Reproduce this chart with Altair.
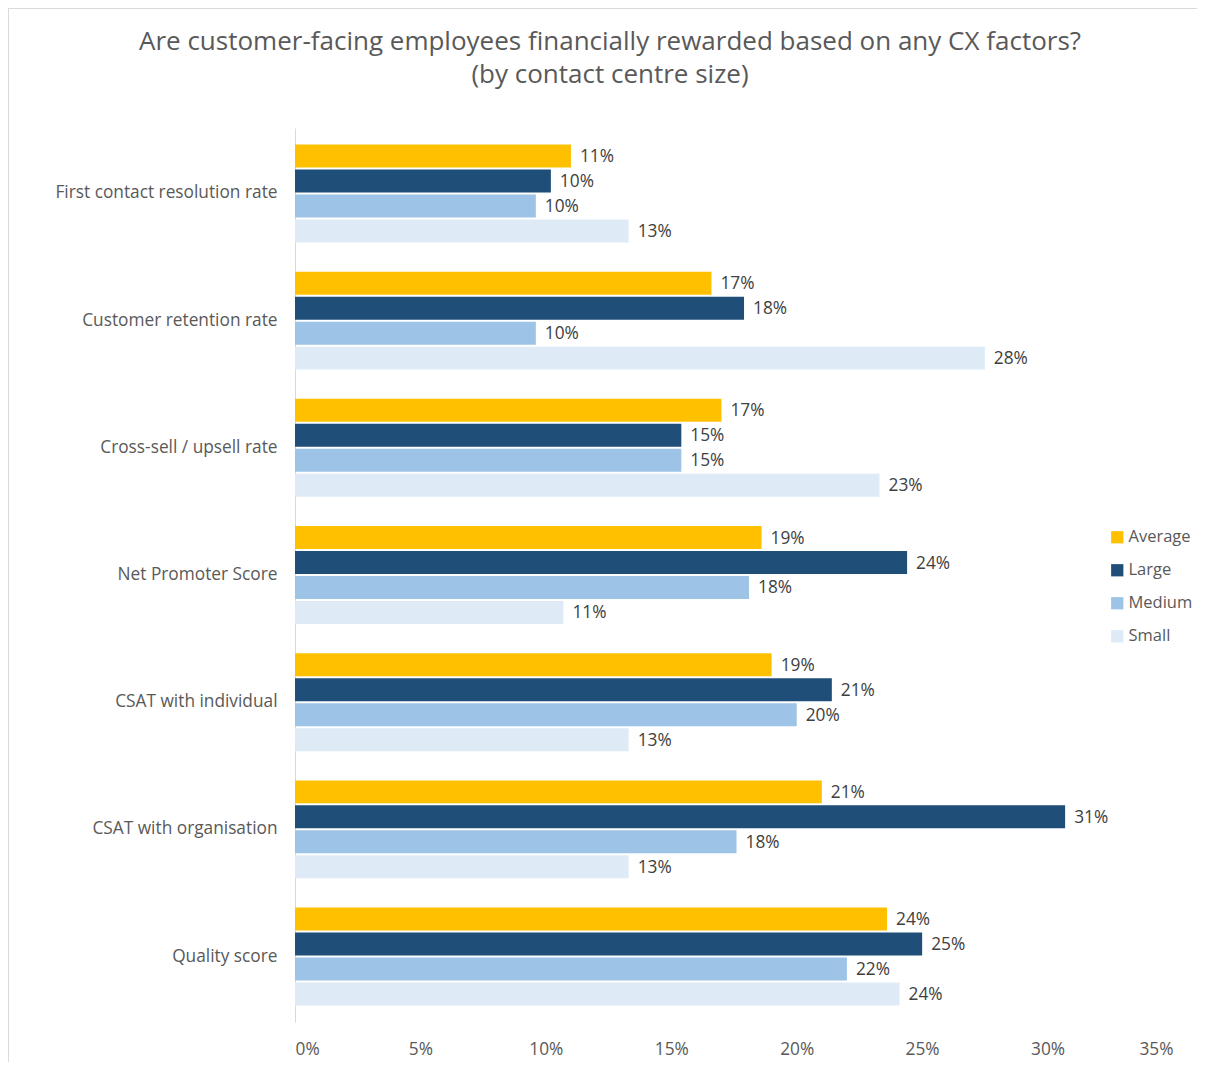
import altair as alt
import pandas as pd

categories = [
    "First contact resolution rate",
    "Customer retention rate",
    "Cross-sell / upsell rate",
    "Net Promoter Score",
    "CSAT with individual",
    "CSAT with organisation",
    "Quality score",
]
series = ["Average", "Large", "Medium", "Small"]
colors = ["#FFC000", "#1F4E79", "#9DC3E6", "#DEEBF7"]

average = [0.110, 0.166, 0.170, 0.186, 0.190, 0.210, 0.236]
large = [0.102, 0.179, 0.154, 0.244, 0.214, 0.307, 0.250]
medium = [0.096, 0.096, 0.154, 0.181, 0.200, 0.176, 0.220]
small = [0.133, 0.275, 0.233, 0.107, 0.133, 0.133, 0.241]

rows = []
for s, vals in zip(series, [average, large, medium, small]):
    for c, v in zip(categories, vals):
        rows.append({"Factor": c, "Size": s, "Value": v})
df = pd.DataFrame(rows)

FONT = "Open Sans"
FS = 17.3

y = alt.Y("Factor:N", sort=categories, title=None,
          scale=alt.Scale(paddingInner=0.23, paddingOuter=0.13),
          axis=alt.Axis(labelFontSize=FS, labelColor="#595959", labelFont=FONT,
                        ticks=False, domainColor="#D9D9D9", labelPadding=18,
                        labelLimit=300))
yoff = alt.YOffset("Size:N", sort=series, scale=alt.Scale(paddingInner=0.08))
x = alt.X("Value:Q", title=None,
          scale=alt.Scale(domain=[0, 0.35]),
          axis=alt.Axis(format=".0%", values=[0, 0.05, 0.1, 0.15, 0.2, 0.25, 0.3, 0.35],
                        labelFontSize=FS, labelColor="#595959", labelFont=FONT,
                        grid=False, ticks=False, domain=False, labelPadding=18))

bars = alt.Chart(df).mark_bar().encode(
    y=y, yOffset=yoff, x=x,
    color=alt.Color("Size:N", sort=series,
                    scale=alt.Scale(domain=series, range=colors),
                    legend=alt.Legend(title=None, orient="none", legendX=814, legendY=401,
                                      symbolType="square", symbolSize=150,
                                      labelFontSize=16.5, labelColor="#595959", labelFont=FONT,
                                      labelOffset=3, rowPadding=16, symbolStrokeWidth=0,
                                      labelLimit=200)),
)

labels = alt.Chart(df).mark_text(align="left", baseline="middle", dx=9, dy=1,
                                 fontSize=FS, color="#404040", font=FONT).encode(
    y=y, yOffset=yoff, x=x,
    text=alt.Text("Value:Q", format=".0%"),
)

frame = alt.Chart(df).mark_rect(fill=None, stroke="#D9D9D9", strokeWidth=1, clip=False).encode(
    x=alt.value(-287), x2=alt.value(910), y=alt.value(-120), y2=alt.value(944)
)

chart = alt.layer(bars, labels, frame).properties(
    width=878, height=894,
    padding={"left": 287, "top": 120, "right": 24, "bottom": 40},
    autosize=alt.AutoSizeParams(type="none"),
    title=alt.TitleParams(
        ["Are customer-facing employees financially rewarded based on any CX factors?",
         "(by contact centre size)"],
        fontSize=26, font=FONT, fontWeight="normal", color="#595959",
        anchor="middle", frame="group", dx=-124, offset=-80, lineHeight=33,
    ),
).configure_view(stroke=None)

chart.save("out.html", embed_options={"renderer": "svg", "actions": False})
